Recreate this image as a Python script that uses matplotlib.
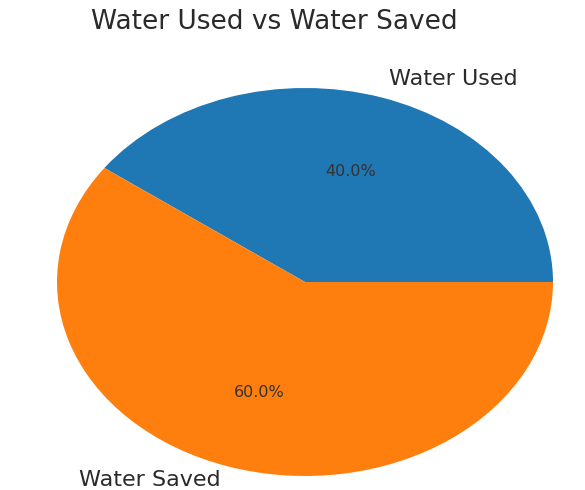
import matplotlib
matplotlib.use("Agg")
import matplotlib.pyplot as plt

labels = ["Water Used", "Water Saved"]
values = [40, 60]
colors = ["#1f77b4", "#ff7f0e"]
title = "Water Used vs Water Saved"

fig = plt.figure(figsize=(5.85, 4.9), dpi=100)
ax = fig.add_axes([57/585, 14/490, 496/585, 388/490])
wedges, texts, autotexts = ax.pie(values, labels=labels, colors=colors,
                                  autopct="%1.1f%%", textprops={"fontsize": 16, "color": "#2a2a2a"})
for t in autotexts:
    t.set_fontsize(11.5)
    t.set_color("#333333")
# keep the lower label inside the canvas
x, y = texts[1].get_position()
texts[1].set_position((x, y * 1.075 / 1.1))
ax.set_aspect("auto")
ax.set_xlim(-1, 1)
ax.set_ylim(-1, 1)
fig.text(274/585, 1 - 22/490, title, ha="center", va="center", fontsize=19, color="#2a2a2a")
fig.savefig("out.png", dpi=100)
